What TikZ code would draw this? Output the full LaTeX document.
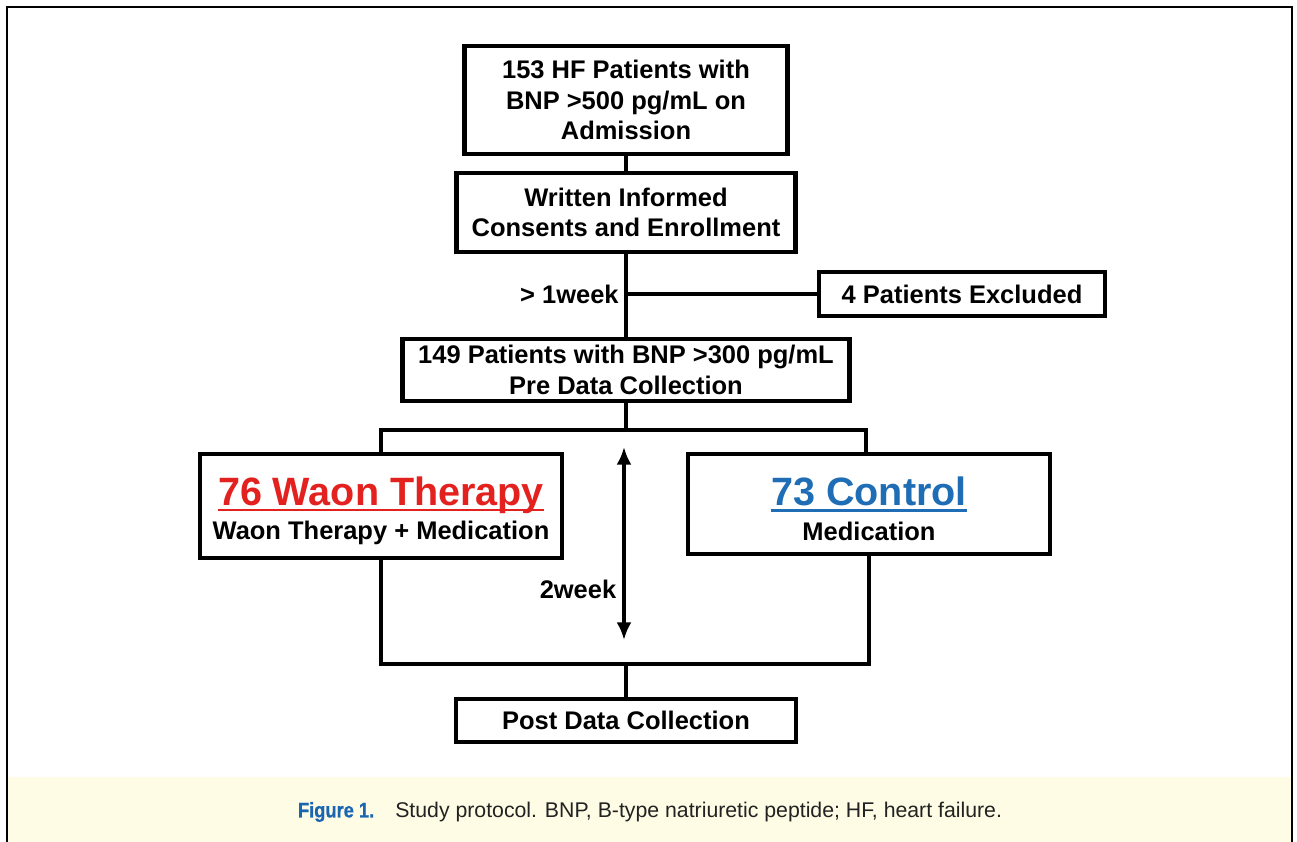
\documentclass[tikz,border=0pt]{standalone}
\usepackage{fontspec}
\setmainfont{Liberation Sans}
\newfontfamily\capfont[FakeStretch=0.86,FakeBold=0.6]{Liberation Sans}
\usetikzlibrary{positioning,arrows.meta}

\definecolor{waonred}{HTML}{E3211F}
\definecolor{ctrlblue}{HTML}{1F6DB5}
\definecolor{figblue}{HTML}{1A66B0}
\definecolor{capfill}{HTML}{FEFCE5}
\definecolor{captext}{HTML}{222222}

% underline drawn close to the baseline
\newcommand{\ulin}[1]{\setbox0\hbox{#1}\rlap{\rule[-3.2pt]{\wd0}{1.3pt}}\box0}

\begin{document}
\begin{tikzpicture}[
    box/.style={
        draw,
        line width=2.3pt,
        align=center,
        inner sep=2pt,
        font=\fontsize{14.5}{17.3}\selectfont\bfseries
    },
    link/.style={line width=2.1pt},
    arrow/.style={{Latex[length=10pt,width=8.5pt]}-{Latex[length=10pt,width=8.5pt]}, line width=2.1pt},
    lbl/.style={inner sep=1pt, font=\fontsize{14.5}{17.3}\selectfont\bfseries}
]
\useasboundingbox (0,0) rectangle (25.94,-16.84);

% frame and caption band
\fill[capfill] (0.14,-15.54) rectangle (25.84,-16.84);
\draw[line width=1.6pt] (0.14,-16.84) -- (0.14,-0.14) -- (25.84,-0.14) -- (25.84,-16.84);

\node[box, minimum width=6.46cm, minimum height=2.16cm] (adm) at (12.52,-2.0)
    {153 HF Patients with\\BNP >500 pg/mL on\\Admission};
\node[box, minimum width=6.78cm, minimum height=1.58cm] (cons) at (12.52,-4.25)
    {Written Informed\\Consents and Enrollment};
\node[box, minimum width=5.72cm, minimum height=0.88cm] (excl) at (19.24,-5.88)
    {4 Patients Excluded};
\node[box, minimum width=8.94cm, minimum height=1.24cm] (pre) at (12.52,-7.40)
    {149 Patients with BNP >300 pg/mL\\Pre Data Collection};
\node[box, minimum width=7.24cm, minimum height=2.08cm] (waon) at (7.62,-10.12)
    {{\fontsize{22.5}{24}\selectfont\color{waonred}\rule{0pt}{22pt}\ulin{76 Waon Therapy}}\\[2.3pt]Waon Therapy + Medication};
\node[box, minimum width=7.24cm, minimum height=2.00cm] (ctrl) at (17.38,-10.08)
    {{\fontsize{22.5}{24}\selectfont\color{ctrlblue}\rule{0pt}{22pt}\ulin{73 Control}}\\[2.3pt]Medication};
\node[box, minimum width=6.80cm, minimum height=0.86cm] (post) at (12.52,-14.41)
    {Post Data Collection};

\coordinate (excl-j) at (cons.south |- excl.west);
\coordinate (split) at (pre.south |- 0,-8.60);
\coordinate (merge) at (post.north |- 0,-13.28);
\coordinate (wk-top) at (12.48,-8.94);
\coordinate (wk-bot) at (12.48,-12.80);

\draw[link] (adm) -- (cons);
\draw[link] (cons) -- (pre);
\draw[link] (excl-j) -- (excl.west);
\node[lbl, anchor=east] (wk1) at ([xshift=-3pt]excl-j) {> 1week};

\draw[link] (pre) -- (split);
\draw[link] (waon.north) -- (waon.north |- split) -- ([xshift=-0.06cm]ctrl.north |- split) -- ([xshift=-0.06cm]ctrl.north);
\draw[link] (waon.south) -- (waon.south |- merge) -- (ctrl.south |- merge) -- (ctrl.south);
\draw[link] (merge) -- (post);

\draw[arrow] (wk-top) -- (wk-bot);
\node[lbl] (wk2) at (11.56,-11.78) {2week};

\node[inner sep=0pt, text=captext, font=\fontsize{12.1}{14}\selectfont] (cap) at (13.0,-16.24)
    {{\capfont\bfseries\color{figblue}Figure 1.}\hspace{12pt}Study protocol. BNP, B-type natriuretic peptide; HF, heart failure.};

\end{tikzpicture}
\end{document}
